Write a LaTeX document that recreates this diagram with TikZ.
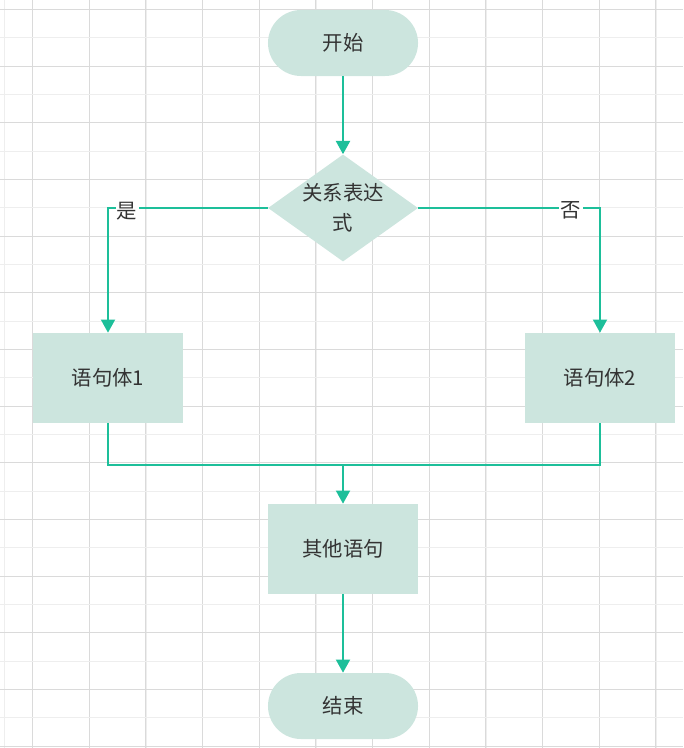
\documentclass[tikz,border=0pt]{standalone}
\usepackage{fontspec}
\setmainfont{Noto Sans CJK SC}
\usetikzlibrary{shapes.geometric,arrows.meta}

\definecolor{fillmint}{HTML}{CCE5DE}
\definecolor{linegreen}{HTML}{1DBF9A}
\definecolor{txtgray}{HTML}{333333}
\definecolor{gridmajor}{HTML}{DADADA}
\definecolor{gridminor}{HTML}{EEEEEE}

\begin{document}
\begin{tikzpicture}[
  x=0.025cm, y=-0.025cm,
  font=\fontsize{14.5}{21}\selectfont, text=txtgray,
  arr/.style={-{Triangle[width=0.35cm, length=0.33cm]}, linegreen, line width=1.4pt},
  conn/.style={linegreen, line width=1.4pt},
  terminal/.style={fill=fillmint, rounded corners=0.825cm,
                   minimum width=3.75cm, minimum height=1.65cm, inner sep=0pt},
  procbox/.style={fill=fillmint, minimum width=3.75cm, minimum height=2.25cm, inner sep=0pt},
  decision/.style={diamond, fill=fillmint, aspect=1.4, inner sep=0pt,
                   minimum width=3.75cm, minimum height=2.675cm, align=center},
  lbl/.style={fill=white, text=txtgray, inner sep=1pt, yshift=-2pt},
]
\useasboundingbox (0,0) rectangle (683,748);

%% grid
\foreach \k in {0,...,11} {
  \pgfmathsetmacro\gx{4.3+28.33+56.67*\k}
  \draw[gridminor, line width=0.6pt] (\gx,0) -- (\gx,748);
  \pgfmathsetmacro\gx{32.3+56.67*\k}
  \draw[gridmajor, line width=0.6pt] (\gx,0) -- (\gx,748);
}
\draw[gridminor, line width=0.6pt] (4.3,0) -- (4.3,748);
\foreach \k in {0,...,13} {
  \pgfmathsetmacro\gy{9.3+28.33+56.67*\k}
  \draw[gridminor, line width=0.6pt] (0,\gy) -- (683,\gy);
  \pgfmathsetmacro\gy{9.3+56.67*\k}
  \draw[gridmajor, line width=0.6pt] (0,\gy) -- (683,\gy);
}

%% nodes
\node[terminal] (start) at (343,43)  {开始};
\node[decision] (cond)  at (343,208) {关系表达\\式};
\node[procbox]  (body1) at (108,378) {语句体1};
\node[procbox]  (body2) at (600,378) {语句体2};
\node[procbox]  (other) at (343,549) {其他语句};
\node[terminal] (stop)  at (343,706) {结束};

\coordinate (merge) at (343,465);

%% connectors
\draw[arr] (start) -- (cond);
\draw[arr] (cond.west) -| node[lbl, pos=0.44] {是} (body1.north);
\draw[arr] (cond.east) -| node[lbl, pos=0.42] {否} (body2.north);
\draw[conn] (body1.south) |- (merge) -| (body2.south);
\draw[arr] (merge) -- (other.north);
\draw[arr] (other) -- (stop);

\end{tikzpicture}
\end{document}
